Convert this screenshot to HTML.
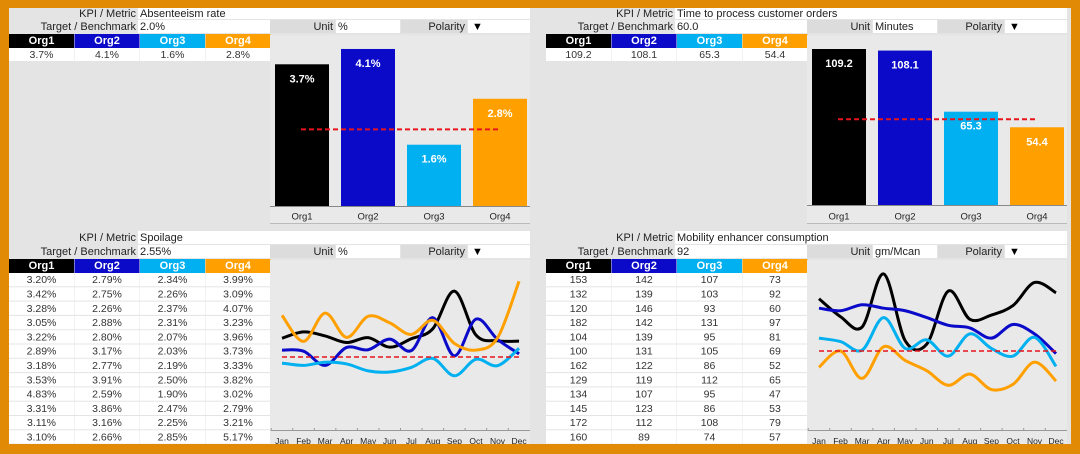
<!DOCTYPE html>
<html><head><meta charset="utf-8"><style>
html,body{margin:0;padding:0;background:#e08a06;}
svg{display:block;font-family:"Liberation Sans",Arial,sans-serif;}
</style></head><body>
<svg id="s" width="1080" height="454" viewBox="0 0 1080 454" xmlns="http://www.w3.org/2000/svg"></svg>
<script>
const orgs = ["Org1","Org2","Org3","Org4"];
const orgColors = ["#000000","#0a0ac8","#00b0f0","#ffa000"];
const months = ["Jan","Feb","Mar","Apr","May","Jun","Jul","Aug","Sep","Oct","Nov","Dec"];

const absentValues = [3.7, 4.1, 1.6, 2.8];
const absentLabels = ["3.7%","4.1%","1.6%","2.8%"];
const absentTarget = 2.0;

const timeValues = [109.2, 108.1, 65.3, 54.4];
const timeLabels = ["109.2","108.1","65.3","54.4"];
const timeTarget = 60.0;

const spoilOrg1 = [3.20,3.42,3.28,3.05,3.22,2.89,3.18,3.53,4.83,3.31,3.11,3.10];
const spoilOrg2 = [2.79,2.75,2.26,2.88,2.80,3.17,2.77,3.91,2.59,3.86,3.16,2.66];
const spoilOrg3 = [2.34,2.26,2.37,2.31,2.07,2.03,2.19,2.50,1.90,2.47,2.25,2.85];
const spoilOrg4 = [3.99,3.09,4.07,3.23,3.96,3.73,3.33,3.82,3.02,2.79,3.21,5.17];
const spoilTarget = 2.55;

const mobOrg1 = [153,132,120,182,104,100,162,129,134,145,172,160];
const mobOrg2 = [142,139,146,142,139,131,122,119,107,123,112,89];
const mobOrg3 = [107,103,93,131,95,105,86,112,95,86,108,74];
const mobOrg4 = [73,92,60,97,81,69,52,65,47,53,79,57];
const mobTarget = 92;

const svg = document.getElementById('s');
const NS = "http://www.w3.org/2000/svg";
function mk(tag, attrs, parent){
  const e = document.createElementNS(NS, tag);
  for (const k in attrs) e.setAttribute(k, attrs[k]);
  (parent||svg).appendChild(e);
  return e;
}
function txt(x,y,s,opts,parent){
  const t = mk('text',Object.assign({x:x,y:y,'font-size':11,fill:'#222','dominant-baseline':'central'},opts||{}),parent);
  t.textContent = s;
  return t;
}

// background
const bg = mk('rect',{x:0,y:0,width:1080,height:454,fill:'#e4e4e4'});



function header(px, yK, yT, yH, kpi, target, unit){
  const labelR = px+127, chartL = px+261, chartR = px+521;
  const g = mk('g',{});
  
  
  const kc = mk('rect',{x:labelR+2,y:yK,width:chartR-labelR-2,height:yT-yK-1,fill:'#fff'},g);
  
  
  const kl = txt(labelR,(yK+yT)/2,'KPI / Metric',{'text-anchor':'end'},g);
  
  
  const kv = txt(labelR+4,(yK+yT)/2,kpi,{},g);
  
  
  const tc = mk('rect',{x:labelR+2,y:yT,width:chartL-labelR-2,height:yH-yT-1,fill:'#fff'},g);
  
  
  const tl = txt(labelR,(yT+yH)/2,'Target / Benchmark',{'text-anchor':'end'},g);
  
  
  const tv = txt(labelR+4,(yT+yH)/2,target,{},g);
  
  
  const ul = mk('rect',{x:chartL,y:yT,width:65,height:yH-yT-1,fill:'#dcdcdc'},g);
  
  
  const ut = txt(chartL+63,(yT+yH)/2,'Unit',{'text-anchor':'end'},g);
  
  
  const uc = mk('rect',{x:chartL+66,y:yT,width:64,height:yH-yT-1,fill:'#fff'},g);
  
  
  const uv = txt(chartL+68,(yT+yH)/2,unit,{},g);
  
  
  const pl = mk('rect',{x:chartL+131,y:yT,width:66,height:yH-yT-1,fill:'#dcdcdc'},g);
  
  
  const pt = txt(chartL+195,(yT+yH)/2,'Polarity',{'text-anchor':'end'},g);
  
  
  const pc = mk('rect',{x:chartL+198,y:yT,width:chartR-chartL-198,height:yH-yT-1,fill:'#fff'},g);
  
  
  const pv = txt(chartL+202,(yT+yH)/2,'▼',{'font-size':11,fill:'#000'},g);
  
  
  // org header
  for (let i=0;i<4;i++){
    const x = px + i*65.5;
    const r = mk('rect',{x:x,y:yH,width:65,height:14,fill:orgColors[i]},g);
    
    
    const t = txt(x+32.5,yH+7,orgs[i],{'text-anchor':'middle',fill:'#fff','font-weight':'bold'},g);
    
    
  }
}

function tableRows(px, y0, rowH, rows){
  const g = mk('g',{});
  
  
  rows.forEach((row,ri)=>{
    row.forEach((v,ci)=>{
      const x = px + ci*65.5;
      const c = mk('rect',{x:x,y:y0+ri*rowH,width:65,height:rowH-1,fill:'#fff'},g);
      
      
      const t = txt(x+32.5,y0+ri*rowH+rowH/2,v,{'text-anchor':'middle','font-size':10.5,fill:'#333'},g);
      
      
    });
  });
}

function barChart(px, values, labels, target, yMax, base, top){
  const chartL = px+261, chartR = px+521;
  const g = mk('g',{});
  
  
  const a = mk('rect',{x:chartL,y:35,width:chartR-chartL,height:189,fill:'#e9e9e9'},g);
  
  
  const y = v => base - (v/yMax)*(base-top);
  const step = 66, first = chartL+32;
  const xc = i => first + i*step;
  values.forEach((v,i)=>{
    const b = mk('rect',{x:xc(i)-27,y:y(v),width:54,height:base-y(v),fill:orgColors[i]},g);
    
    
    const t = txt(xc(i),y(v)+15,labels[i],{'text-anchor':'middle',fill:'#fff','font-weight':'bold','font-size':11},g);
    
    
    const xl = txt(xc(i),217,orgs[i],{'text-anchor':'middle','font-size':9.5,fill:'#222'},g);
    
    
  });
  const ax = mk('line',{x1:chartL,x2:chartR,y1:base+0.5,y2:base+0.5,stroke:'#888','stroke-width':1},g);
  
  
  const bl = mk('line',{x1:chartL,x2:chartR,y1:223.5,y2:223.5,stroke:'#bbb','stroke-width':1},g);
  
  
  const tl = mk('line',{x1:xc(0)-1,x2:xc(3)+1,y1:y(target),y2:y(target),stroke:'#e8141c','stroke-width':2,'stroke-dasharray':'5,3'},g);
  
  
}

function smoothPath(pts){
  let d = 'M'+pts[0][0]+','+pts[0][1];
  for (let i=0;i<pts.length-1;i++){
    const p0 = pts[i-1]||pts[i], p1 = pts[i], p2 = pts[i+1], p3 = pts[i+2]||pts[i+1];
    const c1x = p1[0]+(p2[0]-p0[0])/6, c1y = p1[1]+(p2[1]-p0[1])/6;
    const c2x = p2[0]-(p3[0]-p1[0])/6, c2y = p2[1]-(p3[1]-p1[1])/6;
    d += ' C'+c1x+','+c1y+' '+c2x+','+c2y+' '+p2[0]+','+p2[1];
  }
  return d;
}

function lineChart(px, series, target, yMin, yMax, yBot, yTop){
  const chartL = px+261, chartR = px+521;
  const g = mk('g',{});
  
  
  const a = mk('rect',{x:chartL,y:260,width:chartR-chartL,height:184,fill:'#e9e9e9'},g);
  
  
  const y = v => yBot - (v-yMin)/(yMax-yMin)*(yBot-yTop);
  const x = i => chartL+12 + i*21.55;
  const ax = mk('line',{x1:chartL+1,x2:chartR,y1:430.5,y2:430.5,stroke:'#999','stroke-width':1},g);
  
  
  months.forEach((m,i)=>{
    const tk = mk('line',{x1:x(i)-10.8,x2:x(i)-10.8,y1:428,y2:431,stroke:'#999'},g);
    
    
    const t = txt(x(i),441,m,{'text-anchor':'middle','font-size':8.5,fill:'#222'},g);
    
    
  });
  const tl = mk('line',{x1:x(0),x2:x(11),y1:y(target),y2:y(target),stroke:'#e8141c','stroke-width':1.6,'stroke-dasharray':'5,3'},g);
  
  series.forEach((s,si)=>{
    const p = mk('path',{d:smoothPath(s.map((v,i)=>[x(i),y(v)])),fill:'none',stroke:orgColors[si],'stroke-width':3,'stroke-linejoin':'round'},g);
    
    
  });
  
  g.appendChild(tl);
}

// Top-left: Absenteeism
header(9, 8, 20, 34, 'Absenteeism rate', '2.0%', '%');
tableRows(9, 48, 14, [absentLabels]);
barChart(9, absentValues, absentLabels, absentTarget, 5, 206, 14.5);

// Top-right: Time to process
header(546, 8, 20, 34, 'Time to process customer orders', '60.0', 'Minutes');
tableRows(546, 48, 14, [timeLabels]);
barChart(546, timeValues, timeLabels, timeTarget, 140, 205, 5);

// Bottom-left: Spoilage
header(9, 231, 245, 259, 'Spoilage', '2.55%', '%');
tableRows(9, 273, 14.3, months.map((m,i)=>[spoilOrg1[i],spoilOrg2[i],spoilOrg3[i],spoilOrg4[i]].map(v=>v.toFixed(2)+'%')));
lineChart(9, [spoilOrg1,spoilOrg2,spoilOrg3,spoilOrg4], spoilTarget, 1, 6, 401.8, 257.3);

// Bottom-right: Mobility
header(546, 231, 245, 259, 'Mobility enhancer consumption', '92', 'gm/Mcan');
tableRows(546, 273, 14.3, months.map((m,i)=>[mobOrg1[i],mobOrg2[i],mobOrg3[i],mobOrg4[i]].map(v=>String(v))));
lineChart(546, [mobOrg1,mobOrg2,mobOrg3,mobOrg4], mobTarget, 0, 200, 429.8, 258.5);

// orange frame
[[0,0,1080,8,'frame-top'],[0,444,1080,10,'frame-bottom'],[0,0,9,454,'frame-left'],[1071,0,9,454,'frame-right']].forEach(f=>{
  const r = mk('rect',{x:f[0],y:f[1],width:f[2],height:f[3],fill:'#e08a06'});
  
  
});
</script>
</body></html>
